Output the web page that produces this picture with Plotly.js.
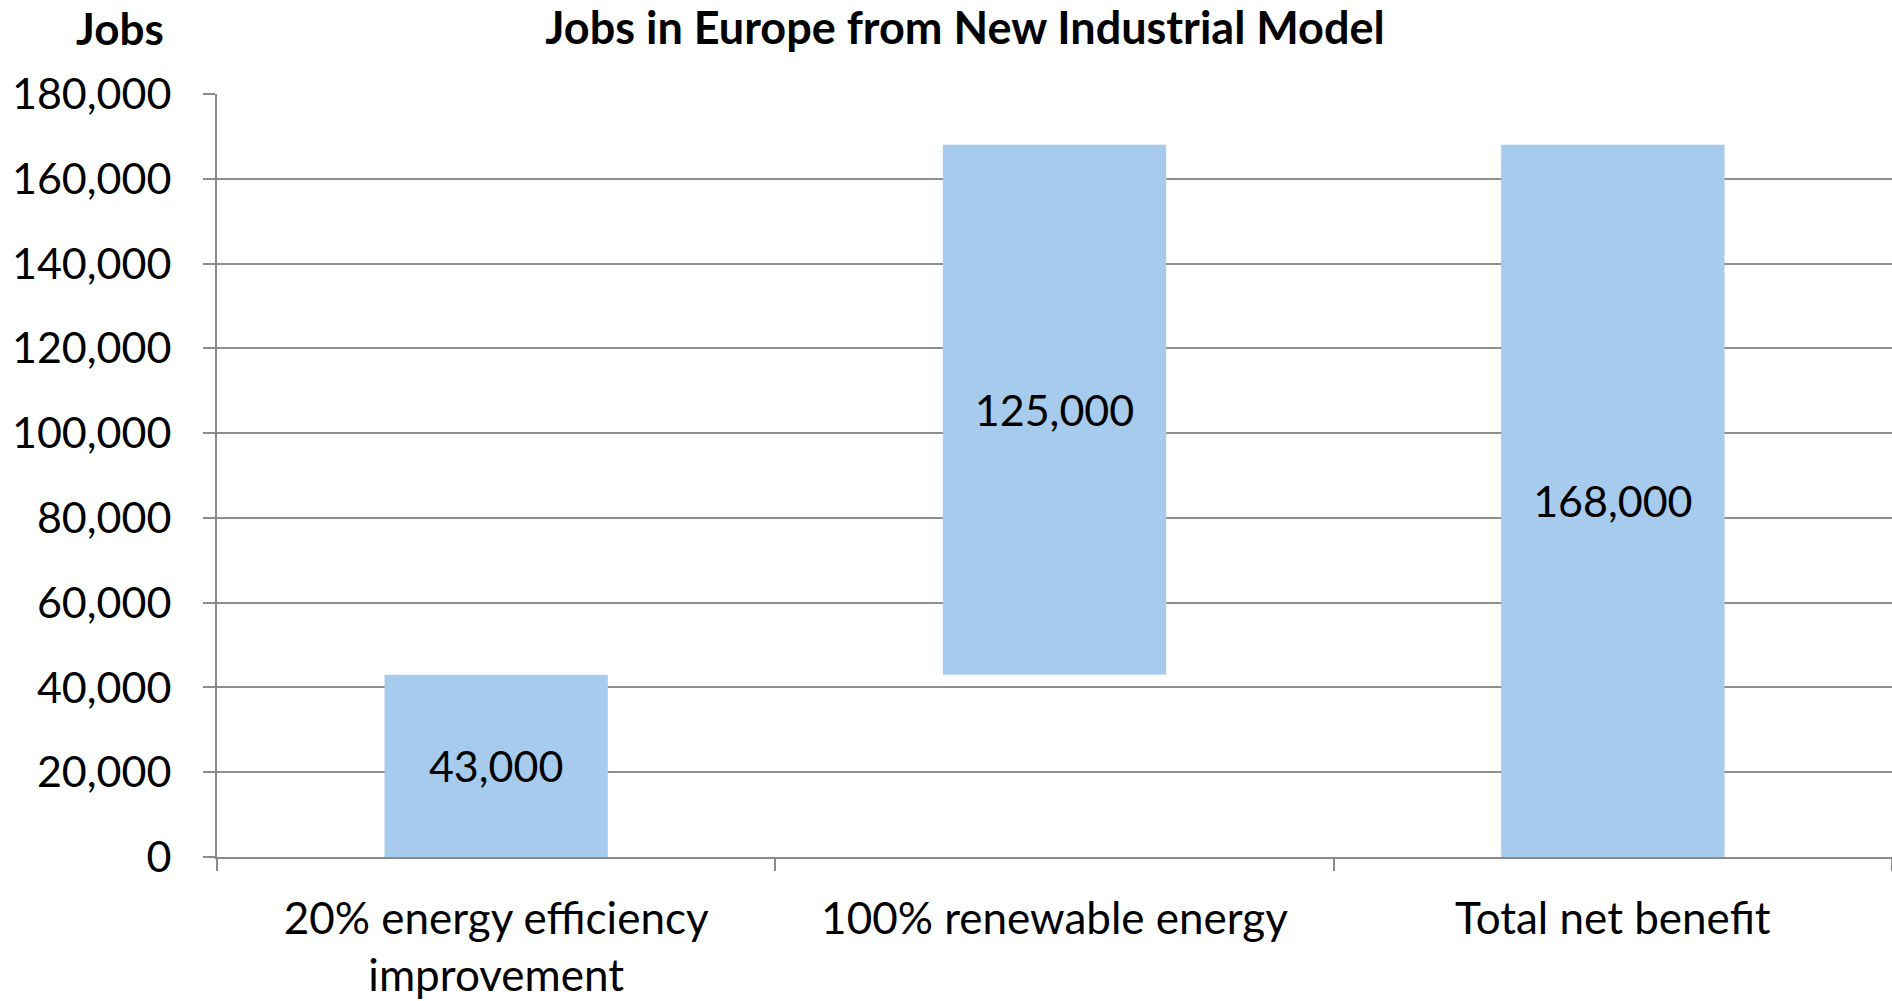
<!DOCTYPE html>
<html>
<head>
<meta charset="utf-8">
<script src="https://cdn.plot.ly/plotly-3.0.1.min.js"></script>
<style>html,body{margin:0;padding:0;background:#fff;}#chart{width:1892px;height:1001px;}</style>
</head>
<body>
<div id="chart"></div>
<script>
const categories = ["20% energy efficiency<br>improvement", "100% renewable energy", "Total net benefit"];
const values = [43000, 125000, 168000];
const measures = ["relative", "relative", "total"];
const labels = ["43,000", "125,000", "168,000"];
const yTickVals = [0, 20000, 40000, 60000, 80000, 100000, 120000, 140000, 160000, 180000];

const FONT = "Lato, 'Open Sans', sans-serif";
const barColor = "#A7CBEC";

const trace = {
  type: "waterfall",
  x: categories,
  y: values,
  measure: measures,
  text: labels,
  textposition: "inside",
  insidetextanchor: "middle",
  textfont: {family: FONT, size: 43, color: "#000"},
  width: [0.4, 0.4, 0.4],
  connector: {visible: false},
  increasing: {marker: {color: barColor}},
  decreasing: {marker: {color: barColor}},
  totals: {marker: {color: barColor}},
  hoverinfo: "x+y",
  showlegend: false
};

const layout = {
  width: 1892,
  height: 1001,
  margin: {l: 217, r: 0, t: 94, b: 144},
  paper_bgcolor: "#fff",
  plot_bgcolor: "#fff",
  font: {family: FONT, color: "#000"},
  title: {
    text: "<b>Jobs in Europe from New Industrial Model</b>",
    font: {family: FONT, size: 45, color: "#000"},
    x: 965 / 1892, xref: "container", xanchor: "center",
    y: 1 - 28 / 1001, yref: "container", yanchor: "middle"
  },
  xaxis: {
    type: "category",
    showgrid: false,
    showline: true,
    linecolor: "#8a8a8a",
    linewidth: 2,
    ticks: "outside",
    tickson: "boundaries",
    ticklen: 12,
    tickcolor: "#8a8a8a",
    tickwidth: 2,
    ticklabelstandoff: 22,
    tickfont: {family: FONT, size: 44, color: "#000"},
    zeroline: false
  },
  yaxis: {
    range: [0, 180000],
    tickvals: yTickVals,
    tickformat: ",",
    showgrid: true,
    gridcolor: "#8e8e8e",
    gridwidth: 2,
    showline: true,
    linecolor: "#8a8a8a",
    linewidth: 2,
    ticks: "outside",
    ticklen: 12,
    tickcolor: "#8a8a8a",
    tickwidth: 2,
    ticklabelstandoff: 23,
    tickfont: {family: FONT, size: 43, color: "#000"},
    zeroline: false
  },
  annotations: [{
    text: "<b>Jobs</b>",
    xref: "paper", yref: "paper",
    x: -0.058, y: 1 + (94 - 28) / 763,
    xanchor: "center", yanchor: "middle",
    showarrow: false,
    font: {family: FONT, size: 44, color: "#000"}
  }]
};

Plotly.newPlot("chart", [trace], layout, {displayModeBar: false, responsive: false});
</script>
</body>
</html>
